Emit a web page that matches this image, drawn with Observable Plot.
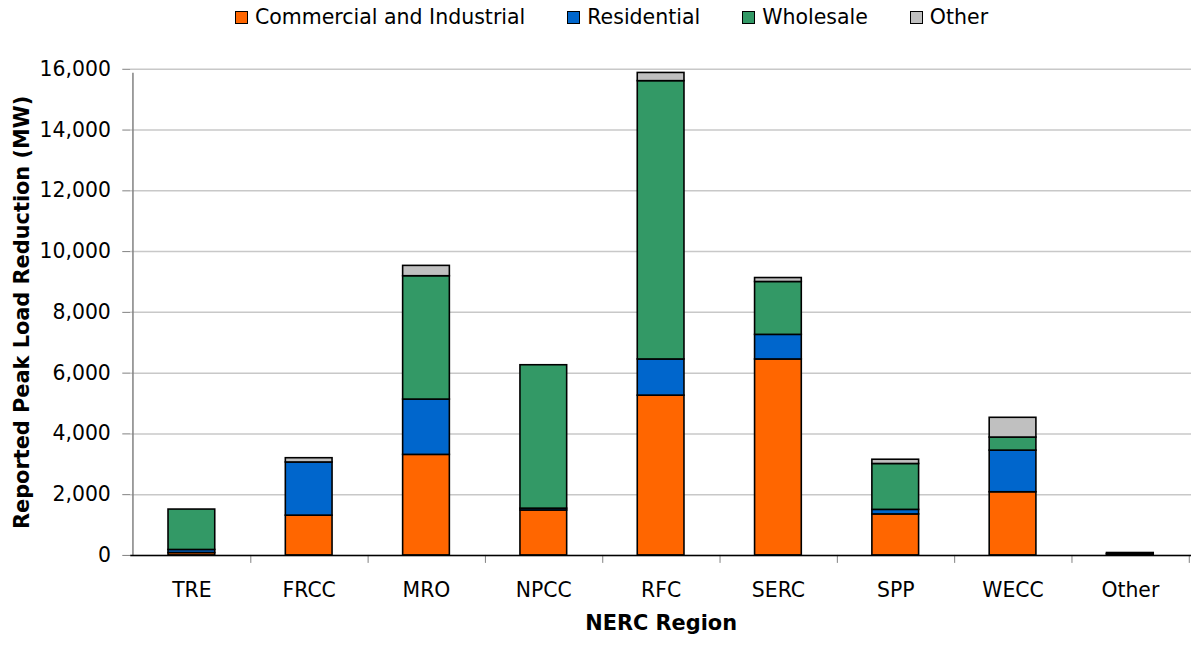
<!DOCTYPE html>
<html>
<head>
<meta charset="utf-8">
<script src="https://cdn.jsdelivr.net/npm/d3@7"></script>
<script src="https://cdn.jsdelivr.net/npm/@observablehq/plot@0.6"></script>
<style>
  html, body { margin: 0; padding: 0; background: #fff; overflow: hidden; width: 1191px; height: 649px; }
  #legend { height: 34px; display: flex; align-items: center; justify-content: center; padding-left: 32px;
    font-family: "DejaVu Sans", sans-serif; font-size: 20.5px; color: #000; box-sizing: border-box; width: 1191px; }
  .item { display: flex; align-items: center; margin: 0 21px; white-space: nowrap; }
  .sw { width: 11px; height: 11px; border: 1.5px solid #000; margin-right: 7px; }
  #chart svg { display: block; }
</style>
</head>
<body>
<div id="legend"></div>
<div id="chart"></div>
<script>
const regions = ["TRE", "FRCC", "MRO", "NPCC", "RFC", "SERC", "SPP", "WECC", "Other"];
const seriesNames = ["Commercial and Industrial", "Residential", "Wholesale", "Other"];
const seriesColors = ["#FF6600", "#0066CC", "#339966", "#C0C0C0"];
const commercialIndustrial = [80, 1310, 3310, 1480, 5260, 6450, 1350, 2080, 30];
const residential = [100, 1750, 1820, 60, 1190, 810, 150, 1370, 20];
const wholesale = [1330, 0, 4060, 4720, 9160, 1740, 1510, 430, 0];
const other = [0, 140, 340, 0, 270, 130, 140, 650, 30];
const yTicks = [0, 2000, 4000, 6000, 8000, 10000, 12000, 14000, 16000];
const xTitle = "NERC Region";
const yTitle = "Reported Peak Load Reduction (MW)";

const seriesValues = [commercialIndustrial, residential, wholesale, other];
const data = seriesNames.flatMap((s, si) =>
  regions.map((r, ri) => ({ region: r, series: s, value: seriesValues[si][ri] }))
).filter(d => d.value > 0);

// legend
const legend = document.getElementById("legend");
seriesNames.forEach((s, i) => {
  const it = document.createElement("div");
  it.className = "item";
  const sw = document.createElement("div");
  sw.className = "sw";
  sw.style.background = seriesColors[i];
  const tx = document.createElement("span");
  tx.textContent = s;
  it.appendChild(sw); it.appendChild(tx);
  legend.appendChild(it);
});

const W = 1198, H = 615, ML = 131, MR = 0, MT = 35, MB = 91;
const step = (W - ML - MR) / regions.length;
const font = "'DejaVu Sans', sans-serif";

const chart = Plot.plot({
  width: W, height: H,
  marginLeft: ML, marginRight: MR, marginTop: MT, marginBottom: MB,
  style: { fontFamily: font, fontSize: "20.5px", color: "#000", background: "#fff", overflow: "visible" },
  x: { domain: regions, paddingInner: 0.6, paddingOuter: 0.3, label: null, axis: null },
  y: { domain: [0, 16000], label: null, axis: null },
  color: { domain: seriesNames, range: seriesColors },
  marks: [
    Plot.gridY({ ticks: yTicks, stroke: "#c8c8c8", strokeOpacity: 1, strokeWidth: 1.5 }),
    Plot.barY(data, { x: "region", y: "value", fill: "series", stroke: "#000", strokeWidth: 1.6, order: seriesNames }),
    Plot.ruleX([regions[0]], { x: d => d, dx: -step / 2, y1: 0, y2: 16000, stroke: "#808080", strokeWidth: 1.5, insetBottom: -4 }),
    Plot.axisY({ ticks: yTicks, tickFormat: d3.format(","), tickSize: 8, tickPadding: 12, stroke: "#808080", fill: "#000", label: null }),
    Plot.axisX({ tickSize: 8, dx: step / 2, tickFormat: () => "", stroke: "#808080", label: null }),
    Plot.axisX({ tickSize: 0, tickPadding: 27, fill: "#000", label: null }),
    Plot.ruleY([0], { stroke: "#000", strokeWidth: 1.5 }),
    Plot.text([xTitle], { text: d => d, frameAnchor: "bottom", dy: 75, fontWeight: "bold", fontSize: 21, fill: "#000" }),
    Plot.text([yTitle], { text: d => d, frameAnchor: "left", textAnchor: "middle", dx: -109, rotate: -90, fontWeight: "bold", fontSize: 21, fill: "#000" })
  ]
});
document.getElementById("chart").appendChild(chart);
</script>
</body>
</html>
